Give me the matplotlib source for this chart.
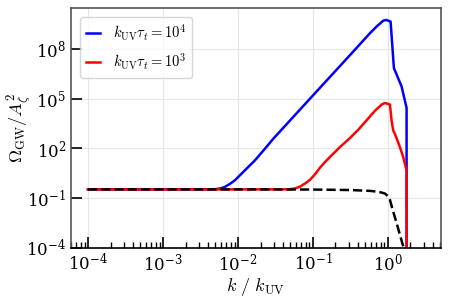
import matplotlib
matplotlib.use("Agg")
import matplotlib.pyplot as plt
from matplotlib.ticker import LogLocator, NullLocator
import numpy as np

plt.rcParams['mathtext.fontset'] = 'cm'
plt.rcParams['font.family'] = 'serif'
plt.rcParams['font.serif'] = ['DejaVu Serif']

# curves, as log10(k/k_UV) and log10(Omega_GW/A^2)
logk_blue = [-4.0, -2.5, -2.307, -2.24, -2.173, -2.1, -2.04, -1.907, -1.773, -1.64,
             -1.529, -1.0, -0.5, -0.24, -0.15, -0.062, -0.018, 0.036, 0.08,
             0.182, 0.249, 0.25]
logO_blue = [-0.47, -0.47, -0.46, -0.42, -0.32, -0.12, 0.08, 0.68, 1.28, 1.98,
             2.58, 5.19, 7.65, 8.94, 9.35, 9.70, 9.74, 9.64, 6.84,
             5.74, 4.44, -8.0]

logk_red = [-4.0, -1.4, -1.31, -1.24, -1.17, -1.10, -1.04, -0.97, -0.907, -0.84,
            -0.773, -0.64, -0.507, -0.4, -0.17, -0.084, -0.04, 0.027, 0.049,
            0.071, 0.093, 0.16, 0.204, 0.249, 0.25]
logO_red = [-0.47, -0.47, -0.46, -0.42, -0.3, -0.1, 0.1, 0.45, 0.83, 1.17,
            1.48, 2.08, 2.62, 3.1, 4.28, 4.64, 4.74, 4.64, 3.68,
            3.08, 2.88, 2.08, 1.48, 0.68, -8.0]

logk_black = [-4.0, -2.0, -1.0, -0.5, -0.24, -0.12, -0.04, 0.0, 0.027, 0.07,
              0.116, 0.16, 0.204, 0.25]
logO_black = [-0.47, -0.47, -0.48, -0.51, -0.56, -0.62, -0.72, -0.88, -1.1, -1.8,
              -2.5, -3.2, -3.9, -4.7]

labels = [r'$k_{\rm UV}\tau_t = 10^4$', r'$k_{\rm UV}\tau_t = 10^3$']

fig = plt.figure(figsize=(4.49, 2.98), dpi=100)
ax = fig.add_axes([0.158, 0.168, 0.824, 0.805])

ax.plot(10**np.array(logk_blue), 10**np.array(logO_blue), color='blue', lw=1.8, label=labels[0])
ax.plot(10**np.array(logk_red), 10**np.array(logO_red), color='red', lw=1.8, label=labels[1])
ax.plot(10**np.array(logk_black), 10**np.array(logO_black), color='black', lw=1.8, ls='--')

ax.set_xscale('log')
ax.set_yscale('log')
ax.set_xlim(10**-4.227, 10**0.707)
ax.set_ylim(1e-4, 10**10.46)

ax.set_yticks([1e-4, 1e-1, 1e2, 1e5, 1e8])
ax.yaxis.set_minor_locator(NullLocator())
ax.set_xticks([1e-4, 1e-3, 1e-2, 1e-1, 1e0])
ax.xaxis.set_minor_locator(LogLocator(base=10, subs=np.arange(2, 10)))

ax.tick_params(axis='both', which='major', direction='in', length=8, width=1.2, labelsize=12)
ax.tick_params(axis='x', which='minor', direction='in', length=4, width=1.0)
ax.tick_params(axis='both', which='both', top=False, right=False)

ax.grid(True, which='major', color='#e6e6e6', lw=0.8)
ax.set_axisbelow(True)

for s in ['left', 'top', 'right']:
    ax.spines[s].set_color('#555555')
    ax.spines[s].set_linewidth(1.2)
ax.spines['bottom'].set_color('black')
ax.spines['bottom'].set_linewidth(1.2)

ax.set_xlabel(r'$k\ /\ k_{\rm UV}$', fontsize=13, labelpad=1)
ax.set_ylabel(r'$\Omega_{\rm GW}/A_\zeta^2$', fontsize=13)
ax.yaxis.set_label_coords(-0.10, 0.5)

ax.legend(loc='upper left', fontsize=10.5, handlelength=1.0, borderaxespad=0.6,
          handletextpad=0.9, labelspacing=0.6, borderpad=0.4)

fig.savefig('out.png', dpi=100)
